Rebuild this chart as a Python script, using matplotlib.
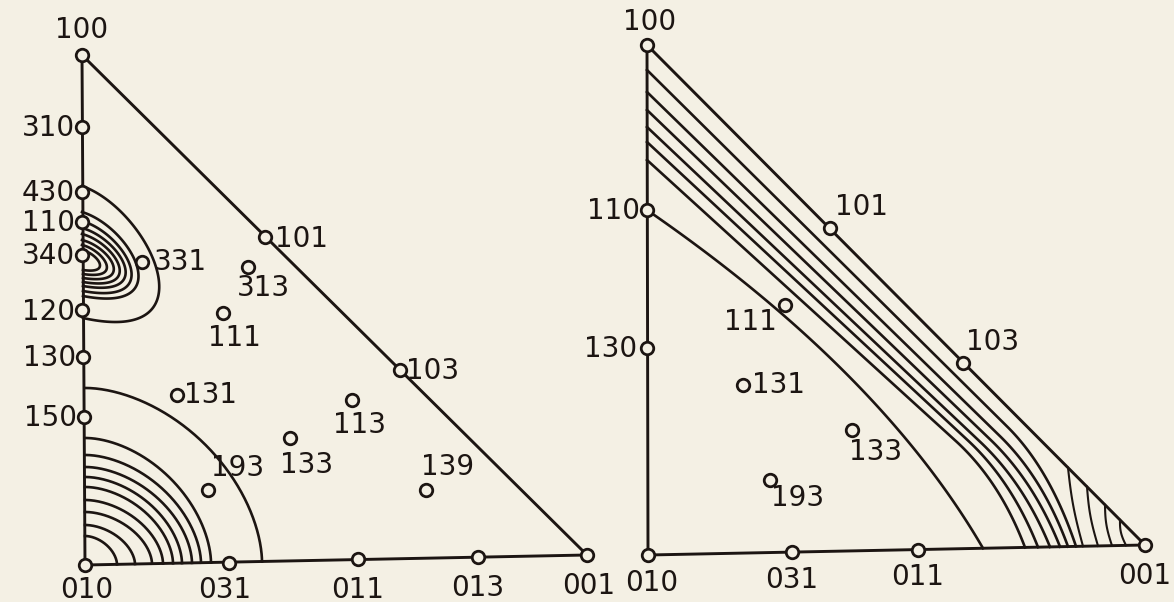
import numpy as np
import matplotlib
matplotlib.use('Agg')
import matplotlib.pyplot as plt

# ---------------- data (diagram units = reference pixels) ----------------
# Left triangle: poles
left_names = ['100', '310', '430', '110', '340', '120', '130', '150', '010', '031', '011', '013', '001',
              '101', '103', '331', '313', '111', '131', '113', '133', '193', '139']
left_px = [82, 82, 82, 82, 82, 82, 83, 84, 85, 229, 358, 478, 587, 265, 400, 142, 248, 223, 177, 352, 290, 208, 426]
left_py = [55, 127, 192, 222, 255, 310, 357, 417, 565, 563, 559, 557, 555, 237, 370, 262, 267, 313, 395, 400, 438, 490, 490]

# Left triangle: contour loops around 340 (axis top, axis bottom, rightmost reach)
loop_top = [186, 212, 221, 228, 234, 240, 245, 250]
loop_bottom = [318, 296, 291, 286, 282, 278, 274, 270]
loop_reach = [160, 139, 132, 126, 120, 114, 107, 100]

# Left triangle: contour arcs around 010 (radius along 010-100 axis, along 010-001 axis)
arc_ry = [177, 127, 110, 98, 88, 78, 65, 53, 40, 29]
arc_rx = [177, 126, 116, 107, 97, 88, 78, 67, 50, 32]

# Right triangle: poles
right_names = ['100', '110', '130', '010', '031', '011', '001', '101', '103', '111', '131', '133', '193']
right_px = [647, 647, 647, 648, 792, 918, 1145, 830, 963, 785, 743, 852, 770]
right_py = [45, 210, 348, 555, 552, 550, 545, 228, 363, 305, 385, 430, 480]

# Right triangle: contour curves (start on 100-010 edge, initial slope, corner x, end on 010-001 edge)
curve_y0 = [210, 160, 142, 127, 110, 92, 70]
curve_slope = [0.69, 0.91, 0.93, 0.945, 0.96, 0.975, 0.99]
curve_corner = [880, 1000, 1012, 1024, 1034, 1043, 1050]
curve_xb = [983, 1025, 1038, 1050, 1060, 1068, 1076]
# Right triangle: short hatch lines near 001 (x on 100-001 edge, x on 010-001 edge)
hatch_top_x = [1068, 1087, 1105, 1120]
hatch_bot_x = [1083, 1098, 1112, 1126]

# ---------------- layout / style ----------------
BG = '#f4f0e4'
INK = '#1c1512'
left_off = [(0, -25, 'center'), (-7, 1, 'right'), (-7, 1, 'right'), (-7, 1, 'right'), (-7, 1, 'right'),
            (-7, 2, 'right'), (-7, 1, 'right'), (-7, 1, 'right'), (2, 25, 'center'), (-4, 27, 'center'),
            (0, 31, 'center'), (0, 31, 'center'), (2, 31, 'center'), (10, 2, 'left'), (6, 1, 'left'),
            (12, 0, 'left'), (15, 21, 'center'), (11, 25, 'center'), (7, 0, 'left'), (8, 25, 'center'),
            (17, 27, 'center'), (30, -22, 'center'), (22, -23, 'center')]
right_off = [(3, -23, 'center'), (-7, 1, 'right'), (-10, 1, 'right'), (4, 28, 'center'), (0, 28, 'center'),
             (0, 27, 'center'), (0, 31, 'center'), (5, -21, 'left'), (3, -21, 'left'), (-8, 17, 'right'),
             (9, 0, 'left'), (24, 22, 'center'), (28, 18, 'center')]

fig = plt.figure(figsize=(11.74, 6.02), dpi=100, facecolor=BG)
ax = fig.add_axes([0, 0, 1, 1])
ax.set_facecolor(BG)
ax.set_xlim(0, 1174)
ax.set_ylim(602, 0)
ax.axis('off')

LW_EDGE = 2.1
LW_C = 1.9
FS = 20


def bez3(p0, p1, p2, p3, n=120):
    t = np.linspace(0, 1, n)[:, None]
    p0, p1, p2, p3 = map(np.asarray, (p0, p1, p2, p3))
    return ((1 - t) ** 3) * p0 + 3 * ((1 - t) ** 2) * t * p1 + 3 * (1 - t) * t * t * p2 + (t ** 3) * p3


def bez2(p0, p1, p2, n=120):
    t = np.linspace(0, 1, n)[:, None]
    p0, p1, p2 = map(np.asarray, (p0, p1, p2))
    return ((1 - t) ** 2) * p0 + 2 * (1 - t) * t * p1 + (t ** 2) * p2


# ---- left triangle edges ----
L100 = (left_px[0], left_py[0]); L010 = (left_px[8], left_py[8]); L001 = (left_px[12], left_py[12])
ax.plot([L100[0], L010[0], L001[0], L100[0]], [L100[1], L010[1], L001[1], L100[1]],
        color=INK, lw=LW_EDGE, solid_joinstyle='miter', zorder=2)

# loops near 340
ax_x = L100[0]
for top, bot, reach in zip(loop_top, loop_bottom, loop_reach):
    w = reach - ax_x
    h = bot - top
    pts = bez3((ax_x, top), (ax_x + 0.87 * w, top + 0.18 * h), (ax_x + 1.7 * w, top + 1.22 * h), (ax_x + 1, bot))
    ax.plot(pts[:, 0], pts[:, 1], color=INK, lw=LW_C, zorder=2)

# arcs around 010
bot_slope = (L001[1] - L010[1]) / (L001[0] - L010[0])
p_exp = 1.75
th = np.linspace(0, np.pi / 2, 200)
for rx, ry in zip(arc_rx, arc_ry):
    c = np.cos(th); s = np.sin(th)
    xs = L010[0] + rx * np.abs(c) ** (2 / p_exp)
    ys = L010[1] - ry * np.abs(s) ** (2 / p_exp)
    ys = ys + bot_slope * (xs - L010[0])
    ax.plot(xs, ys, color=INK, lw=LW_C, zorder=2)

# ---- right triangle edges ----
R100 = (right_px[0], right_py[0]); R010 = (right_px[3], right_py[3]); R001 = (right_px[6], right_py[6])
ax.plot([R100[0], R010[0], R001[0], R100[0]], [R100[1], R010[1], R001[1], R100[1]],
        color=INK, lw=LW_EDGE, solid_joinstyle='miter', zorder=2)
hyp_slope = (R001[1] - R100[1]) / (R001[0] - R100[0])
rbot_slope = (R001[1] - R010[1]) / (R001[0] - R010[0])


def rbot_y(x):
    return R010[1] + rbot_slope * (x - R010[0])


for k, (y0, sl, xc, xb) in enumerate(zip(curve_y0, curve_slope, curve_corner, curve_xb)):
    x0 = R100[0]
    P0 = np.array([x0, y0])
    Pc = np.array([xc, y0 + sl * (xc - x0)])
    P3 = np.array([xb, rbot_y(xb)])
    if k == 0:
        pts = bez2(P0, Pc, P3)
    else:
        d = (Pc - P0) / np.linalg.norm(Pc - P0)
        Q1 = Pc - 60 * d
        seg = bez2(Q1, Pc, P3)
        pts = np.vstack([P0, seg])
    ax.plot(pts[:, 0], pts[:, 1], color=INK, lw=LW_C, zorder=2)

for xt, xbt in zip(hatch_top_x, hatch_bot_x):
    yt = R100[1] + hyp_slope * (xt - R100[0])
    tt = np.linspace(0, 1, 30)
    xs = xt + (xbt - xt) * tt - 2.0 * np.sin(np.pi * tt)
    ys = yt + (rbot_y(xbt) - yt) * tt
    ax.plot(xs, ys, color=INK, lw=1.5, zorder=2)

# ---- markers and labels ----
for xs_, ys_, names, offs in ((left_px, left_py, left_names, left_off),
                              (right_px, right_py, right_names, right_off)):
    ax.plot(xs_, ys_, 'o', ms=9, mfc=BG, mec=INK, mew=2.0, zorder=3, linestyle='none')
    for x, y, name, (dx, dy, ha) in zip(xs_, ys_, names, offs):
        ax.text(x + dx, y + dy, name, ha=ha, va='center', fontsize=FS, color=INK,
                family='DejaVu Sans', zorder=4)

fig.savefig('out.png', dpi=100, facecolor=BG)
